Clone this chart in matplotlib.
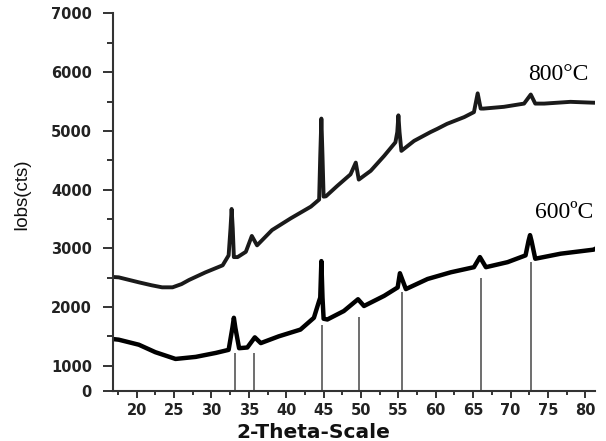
import matplotlib
matplotlib.use("Agg")
import matplotlib.pyplot as plt
from matplotlib.ticker import MultipleLocator

# 800 C pattern (2-theta, counts)
tt_800 = [17.0, 17.6, 20.3, 22.0, 23.4, 24.8, 26.0, 27.0, 29.2, 31.5, 32.3, 32.55,
          32.7, 32.85, 33.0, 33.5, 34.6, 35.4, 36.1, 38.1, 40.6, 43.3, 44.4, 44.55,
          44.7, 44.85, 45.0, 45.3, 46.8, 48.6, 49.3, 49.7, 51.3, 53.1, 54.6, 54.85,
          55.0, 55.15, 55.4, 57.1, 59.3, 60.2, 61.5, 63.8, 65.1, 65.6, 66.0, 66.4,
          69.1, 71.8, 72.7, 73.3, 74.5, 78.0, 81.1, 81.3]
i_800 = [2510, 2505, 2420, 2370, 2335, 2335, 2390, 2460, 2590, 2710, 2880, 3340,
         3670, 3340, 2850, 2850, 2940, 3210, 3050, 3310, 3510, 3710, 3830, 4575,
         5210, 4575, 3880, 3885, 4060, 4260, 4460, 4170, 4320, 4575, 4805, 4980,
         5265, 4980, 4660, 4830, 4980, 5035, 5120, 5235, 5320, 5640, 5380, 5380,
         5410, 5465, 5620, 5465, 5465, 5495, 5480, 5480]

# 600 C pattern
tt_600 = [17.1, 17.6, 20.3, 22.5, 25.2, 27.9, 30.6, 32.3, 32.8, 33.0, 33.2, 33.7,
          34.8, 35.8, 36.6, 39.0, 41.9, 43.7, 44.4, 44.55, 44.7, 44.85, 45.0, 45.5,
          47.7, 49.6, 50.4, 53.1, 54.9, 55.2, 56.0, 58.9, 62.0, 65.1, 65.9, 66.7,
          69.6, 72.0, 72.4, 72.6, 72.8, 73.3, 76.7, 81.1, 81.3]
i_600 = [1450, 1443, 1357, 1230, 1115, 1150, 1218, 1270, 1644, 1816, 1644, 1298,
         1310, 1483, 1385, 1500, 1615, 1816, 2103, 2160, 2782, 2160, 1800, 1787,
         1931, 2132, 2017, 2190, 2333, 2575, 2305, 2477, 2591, 2678, 2850, 2678,
         2764, 2879, 3126, 3224, 3126, 2822, 2908, 2977, 2990]

# reference stick lines
ref_pos = [33.2, 35.7, 44.8, 49.7, 55.5, 66.1, 72.7]
ref_top = [1211, 1211, 1692, 1823, 2258, 2486, 2769]

y_bottom = 569
ytick_vals = [y_bottom, 1000, 2000, 3000, 4000, 5000, 6000, 7000]
ytick_text = ['0', '1000', '2000', '3000', '4000', '5000', '6000', '7000']

fig = plt.figure(figsize=(6.06, 4.41), dpi=100)
ax = fig.add_axes([0.186, 0.1134, 0.796, 0.856])

ax.vlines(ref_pos, y_bottom, ref_top, colors='#555555', linewidth=1.2)
ax.plot(tt_800, i_800, color='#1a1a1a', linewidth=2.8, solid_joinstyle='round')
ax.plot(tt_600, i_600, color='#000000', linewidth=3.2, solid_joinstyle='round')

ax.set_xlim(16.8, 81.3)
ax.set_ylim(y_bottom, 7000)

for s in ['top', 'right']:
    ax.spines[s].set_visible(False)
for s in ['left', 'bottom']:
    ax.spines[s].set_linewidth(1.5)
    ax.spines[s].set_color('#333333')

ax.xaxis.set_major_locator(MultipleLocator(5))
ax.xaxis.set_minor_locator(MultipleLocator(2.5))
ax.set_yticks(ytick_vals)
ax.set_yticklabels(ytick_text)
ax.yaxis.set_minor_locator(MultipleLocator(500))

ax.tick_params(axis='x', which='major', length=5, width=1.4, pad=4, color='#333333')
ax.tick_params(axis='x', which='minor', length=3, width=1.4, color='#333333')
ax.tick_params(axis='y', which='major', length=7, width=1.4, pad=8, color='#333333')
ax.tick_params(axis='y', which='minor', length=4, width=1.4, color='#333333')

for lab in ax.get_xticklabels() + ax.get_yticklabels():
    lab.set_family('DejaVu Sans')
    lab.set_weight('bold')
    lab.set_fontsize(10.5)
    lab.set_color('#222222')

ax.set_xlabel('2-Theta-Scale', fontsize=14.5, fontweight='bold', family='DejaVu Sans',
              color='#111111')
ax.xaxis.set_label_coords(0.415, -0.085)
ax.set_ylabel('Iobs(cts)', fontsize=13.5, family='Liberation Sans', color='#111111')
ax.yaxis.set_label_coords(-0.17, 0.52)

ax.text(80.4, 5860, '800°C', family='Liberation Serif', fontsize=17,
        ha='right', va='baseline')
ax.text(81.1, 3510, '600ºC', family='Liberation Serif', fontsize=17,
        ha='right', va='baseline')

fig.savefig('out.png', dpi=100)
